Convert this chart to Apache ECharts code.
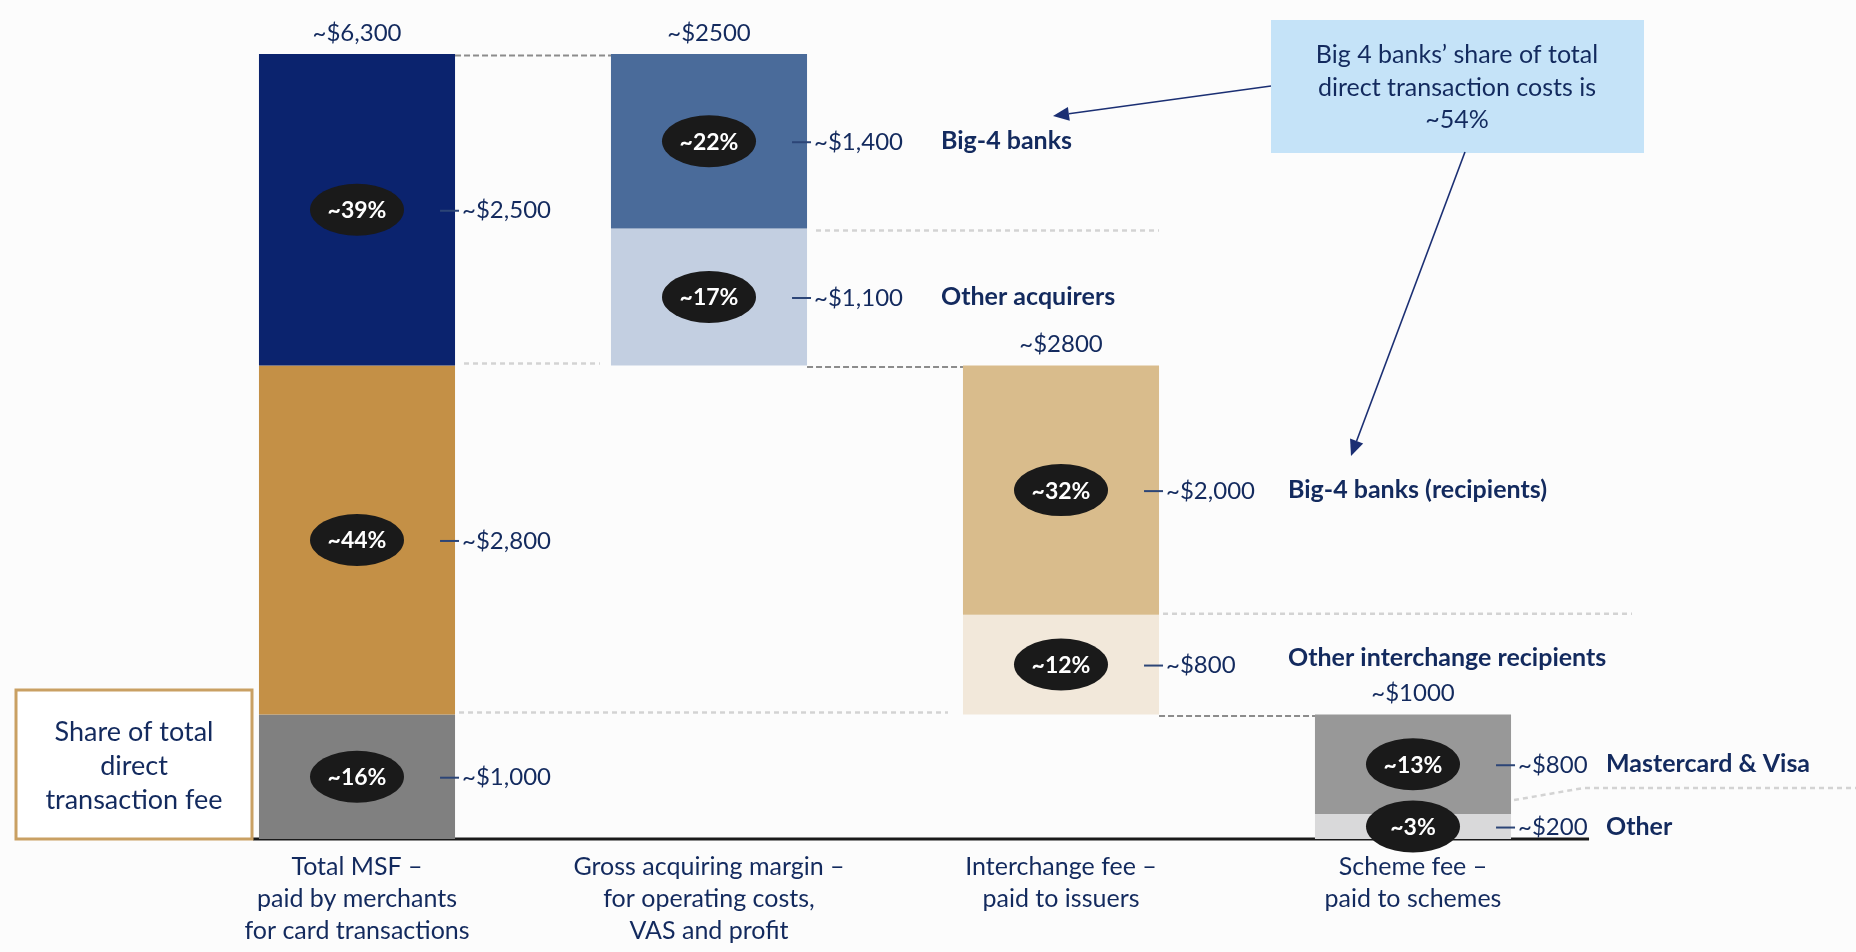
<!DOCTYPE html>
<html>
<head>
<meta charset="utf-8">
<title>Card transaction fee breakdown</title>
<script src="https://cdn.jsdelivr.net/npm/echarts@6/dist/echarts.min.js"></script>
<style>
  html, body { margin: 0; padding: 0; background: #fcfcfc; }
  #chart { width: 1856px; height: 952px; }
</style>
</head>
<body>
<div id="chart"></div>
<script>
// ---- Data -------------------------------------------------------------
const categories = [
  'Total MSF –\npaid by merchants\nfor card transactions',
  'Gross acquiring margin –\nfor operating costs,\nVAS and profit',
  'Interchange fee –\npaid to issuers',
  'Scheme fee –\npaid to schemes'
];
const totalLabels = ['~$6,300', '~$2500', '~$2800', '~$1000'];

// Total MSF, bottom to top: scheme fee, interchange fee, acquiring margin
const msfValues = [1000, 2800, 2500];
const msfShares = [16, 44, 39];

// Gross acquiring margin, bottom to top
const acquirerNames = ['Other acquirers', 'Big-4 banks'];
const acquirerValues = [1100, 1400];
const acquirerShares = [17, 22];

// Interchange fee, bottom to top
const issuerNames = ['Other interchange recipients', 'Big-4 banks (recipients)'];
const issuerValues = [800, 2000];
const issuerShares = [12, 32];

// Scheme fee, bottom to top
const schemeNames = ['Other', 'Mastercard & Visa'];
const schemeValues = [200, 800];
const schemeShares = [3, 13];

const calloutLines = ['Big 4 banks\u2019 share of total', 'direct transaction costs is', '~54%'];
const legendBoxLines = ['Share of total', 'direct', 'transaction fee'];

// ---- Derived layout of the waterfall ---------------------------------
const sum = a => a.reduce((s, v) => s + v, 0);
const msfTotal = sum(msfValues);
const acquirerBase = msfValues[0] + msfValues[1];
const issuerBase = msfValues[0];
const schemeBase = 0;

const TEXT = '#132a5e';
const FONT = 'Lato, "Open Sans", sans-serif';
const BAR_RATIO = 0.557;

const columns = [
  { base: 0, values: msfValues, shares: msfShares, names: [], colors: ['#808080', '#c49046', '#0b236e'], nameGap: 0 },
  { base: acquirerBase, values: acquirerValues, shares: acquirerShares, names: acquirerNames, colors: ['#c3cfe1', '#4a6b9a'], nameGap: 134 },
  { base: issuerBase, values: issuerValues, shares: issuerShares, names: issuerNames, colors: ['#f2e8da', '#d9bc8c'], nameGap: 129 },
  { base: schemeBase, values: schemeValues, shares: schemeShares, names: schemeNames, colors: ['#d9d9da', '#989898'], nameGap: 95 }
];

const segments = [];
columns.forEach((col, ci) => {
  let acc = col.base;
  col.values.forEach((v, k) => {
    segments.push({
      ci, start: acc, end: acc + v, value: v, share: col.shares[k],
      name: col.names[k] || '', color: col.colors[k], nameGap: col.nameGap
    });
    acc += v;
  });
});
const columnTops = columns.map(c => c.base + sum(c.values));

const money = v => '~$' + v.toLocaleString('en-US');

function geom(api, ci, start, end) {
  const band = api.size([1, 0])[0];
  const w = band * BAR_RATIO;
  const pTop = api.coord([ci, end]);
  const yBot = api.coord([ci, start])[1];
  const cx = pTop[0];
  return { cx, w, left: cx - w / 2, right: cx + w / 2, yTop: pTop[1], yBot, cy: (pTop[1] + yBot) / 2 };
}

function textEl(text, x, y, font, fill, align) {
  return {
    type: 'text',
    style: {
      text, x, y, font, fill,
      align: align, textAlign: align,
      verticalAlign: 'middle', textVerticalAlign: 'middle'
    }
  };
}

// ---- Series renderers -------------------------------------------------
function renderBar(params, api) {
  const s = segments[params.dataIndex];
  const g = geom(api, s.ci, s.start, s.end);
  return {
    type: 'rect',
    shape: { x: g.left, y: g.yTop, width: g.w, height: g.yBot - g.yTop },
    style: { fill: s.color }
  };
}

function renderLabels(params, api) {
  const s = segments[params.dataIndex];
  const g = geom(api, s.ci, s.start, s.end);
  const ry = 26;
  const children = [
    { type: 'circle', x: g.cx, y: g.cy, scaleX: 47 / ry, shape: { cx: 0, cy: 0, r: ry }, style: { fill: '#1a1a1a' } },
    textEl('~' + s.share + '%', g.cx, g.cy + 1, 'bold 23px ' + FONT, '#ffffff', 'center'),
    { type: 'line', shape: { x1: g.right - 15, y1: g.cy + 1, x2: g.right + 4, y2: g.cy + 1 }, style: { stroke: '#2c4577', lineWidth: 2 } },
    textEl(money(s.value), g.right + 7, g.cy + 1, '24px ' + FONT, TEXT, 'left')
  ];
  if (s.name) {
    const lift = (s.ci === 2 && s.value === issuerValues[0]) ? 7 : 0;
    children.push(textEl(s.name, g.right + s.nameGap, g.cy - lift, 'bold 25px ' + FONT, TEXT, 'left'));
  }
  return { type: 'group', children };
}

function renderTotals(params, api) {
  const ci = params.dataIndex;
  const g = geom(api, ci, columns[ci].base, columnTops[ci]);
  return textEl(totalLabels[ci], g.cx, g.yTop - 21, '24px ' + FONT, TEXT, 'center');
}

function renderConnectors(params, api) {
  const band = api.size([1, 0])[0];
  const half = band * BAR_RATIO / 2;
  const X = i => api.coord([i, 0])[0];
  const Y = v => api.coord([0, v])[1];
  const L = i => X(i) - half;
  const R = i => X(i) + half;
  const width = api.getWidth();
  const dark = { stroke: '#8c8c8c', lineWidth: 2, lineDash: [6, 3], fill: null };
  const light = { stroke: '#d3d3d3', lineWidth: 2.5, lineDash: [5, 4], fill: null };
  const seg = (x1, y1, x2, y2, style) => ({ type: 'line', shape: { x1, y1, x2, y2 }, style });
  const children = [
    // baseline
    seg(L(0) - 6, Y(0), R(3) + 78, Y(0), { stroke: '#1a1a1a', lineWidth: 3 }),
    // flow links between consecutive columns
    seg(R(0), Y(msfTotal) + 1.5, L(1), Y(msfTotal) + 1.5, dark),
    seg(R(1), Y(acquirerBase) + 1.5, L(2), Y(acquirerBase) + 1.5, dark),
    seg(R(2), Y(issuerBase) + 1.5, L(3), Y(issuerBase) + 1.5, dark),
    // guides at segment boundaries
    seg(R(0) + 9, Y(acquirerBase) - 2, L(1) - 11, Y(acquirerBase) - 2, light),
    seg(R(1) + 9, Y(acquirerBase + acquirerValues[0]) + 2, R(2), Y(acquirerBase + acquirerValues[0]) + 2, light),
    seg(R(0) + 4, Y(issuerBase) - 2, L(2) - 15, Y(issuerBase) - 2, light),
    seg(R(2) + 4, Y(issuerBase + issuerValues[0]) - 1, R(3) + 121, Y(issuerBase + issuerValues[0]) - 1, light),
    {
      type: 'polyline',
      shape: { points: [
        [R(3) + 3, Y(schemeValues[0]) - 14],
        [R(3) + 72, Y(schemeValues[0]) - 26],
        [width, Y(schemeValues[0]) - 26]
      ] },
      style: light
    }
  ];
  return { type: 'group', children };
}

// ---- Annotations --------------------------------------------------------
const ARROW = '#1b2f73';
function arrow(x1, y1, x2, y2) {
  const ang = Math.atan2(y2 - y1, x2 - x1);
  const len = 16, hw = 7;
  const bx = x2 - len * Math.cos(ang), by = y2 - len * Math.sin(ang);
  const px = -Math.sin(ang) * hw, py = Math.cos(ang) * hw;
  return [
    { type: 'line', z: 120, shape: { x1, y1, x2: bx, y2: by }, style: { stroke: ARROW, lineWidth: 1.6 } },
    { type: 'polygon', z: 120, shape: { points: [[x2, y2], [bx + px, by + py], [bx - px, by - py]] }, style: { fill: ARROW } }
  ];
}
function gText(text, x, y, font) {
  return {
    type: 'text', z: 110, x, y,
    style: { text, font, fill: TEXT, align: 'center', textAlign: 'center', verticalAlign: 'middle', textVerticalAlign: 'middle' }
  };
}

const graphics = [
  { type: 'rect', z: 100, shape: { x: 16, y: 690, width: 236, height: 149 }, style: { fill: '#ffffff', stroke: '#c9a063', lineWidth: 3 } },
  ...legendBoxLines.map((t, i) => gText(t, 134, 732 + i * 34, '27px ' + FONT)),
  { type: 'rect', z: 100, shape: { x: 1271, y: 20, width: 373, height: 133 }, style: { fill: '#c5e3f8' } },
  ...calloutLines.map((t, i) => gText(t, 1457, 55 + i * 32.5, '25px ' + FONT)),
  ...arrow(1271, 86, 1053, 116),
  ...arrow(1465, 152, 1351, 456)
];

// ---- Chart ----------------------------------------------------------------
const chart = echarts.init(document.getElementById('chart'), null, { renderer: 'canvas' });
chart.setOption({
  backgroundColor: '#fcfcfc',
  animation: false,
  grid: { left: 181, right: 267, top: 54, bottom: 113 },
  xAxis: {
    type: 'category',
    data: categories,
    axisLine: { show: false },
    axisTick: { show: false },
    splitLine: { show: false },
    axisLabel: { interval: 0, color: TEXT, fontFamily: FONT, fontSize: 25, lineHeight: 32, margin: 12 }
  },
  yAxis: { type: 'value', min: 0, max: msfTotal, show: false, splitLine: { show: false } },
  series: [
    {
      type: 'custom', name: 'connectors', z: 1, clip: false, silent: true,
      data: [[0, 0]], encode: { x: 0, y: 1 },
      renderItem: renderConnectors
    },
    {
      type: 'custom', name: 'segments', z: 2, clip: false,
      data: segments.map(s => [s.ci, s.start, s.end]), encode: { x: 0, y: [1, 2] },
      renderItem: renderBar
    },
    {
      type: 'custom', name: 'labels', z: 5, clip: false, silent: true,
      data: segments.map(s => [s.ci, s.start, s.end]), encode: { x: 0, y: [1, 2] },
      renderItem: renderLabels
    },
    {
      type: 'custom', name: 'totals', z: 5, clip: false, silent: true,
      data: columnTops.map((t, i) => [i, t]), encode: { x: 0, y: 1 },
      renderItem: renderTotals
    }
  ],
  graphic: { elements: graphics }
});
</script>
</body>
</html>
